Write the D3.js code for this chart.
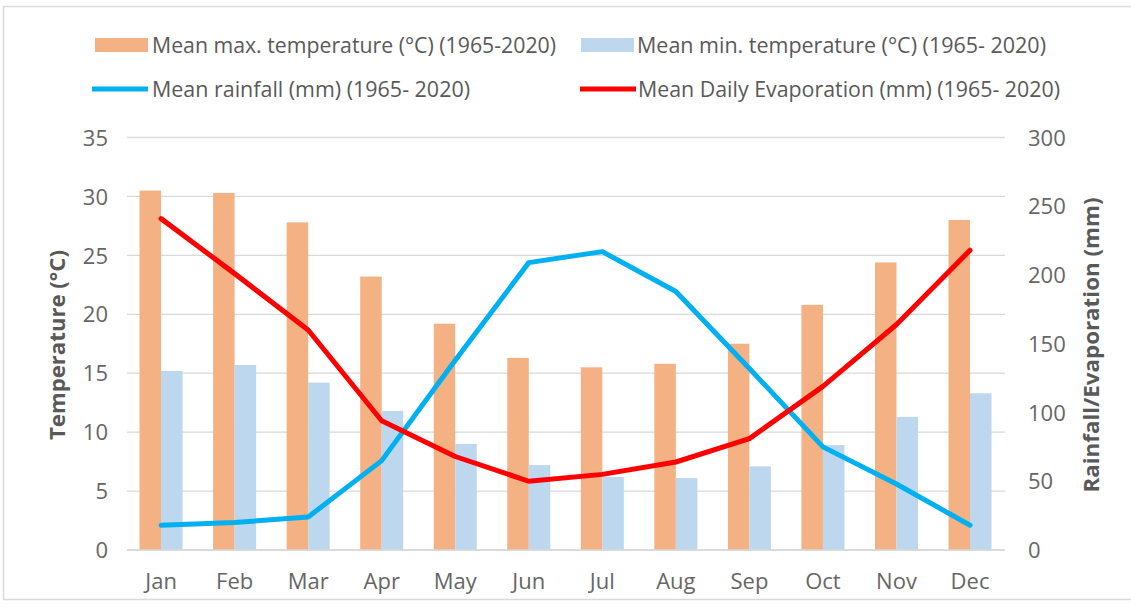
<!DOCTYPE html>
<html>
<head>
<meta charset="utf-8">
<script src="https://cdn.jsdelivr.net/npm/d3@7"></script>
<style>
  html, body { margin: 0; padding: 0; background: #fff; }
  svg { display: block; }
  text { font-family: "Open Sans", sans-serif; }
</style>
</head>
<body>
<svg id="chart" width="1131" height="610"></svg>
<script>
const months = ["Jan","Feb","Mar","Apr","May","Jun","Jul","Aug","Sep","Oct","Nov","Dec"];
const maxTemp = [30.5, 30.3, 27.8, 23.2, 19.2, 16.3, 15.5, 15.8, 17.5, 20.8, 24.4, 28.0];
const minTemp = [15.2, 15.7, 14.2, 11.8, 9.0, 7.2, 6.2, 6.1, 7.1, 8.9, 11.3, 13.3];
const rainfall = [18, 20, 24, 65, 138, 209, 217, 188, 132, 75, 48, 18];
const evaporation = [241, 201, 160, 94, 68, 50, 55, 64, 81, 119, 164, 218];
const leftTicks = [0, 5, 10, 15, 20, 25, 30, 35];
const rightTicks = [0, 50, 100, 150, 200, 250, 300];
const legendLabels = [
  "Mean max. temperature (°C) (1965-2020)",
  "Mean min. temperature (°C) (1965- 2020)",
  "Mean rainfall (mm) (1965- 2020)",
  "Mean Daily Evaporation (mm) (1965- 2020)"
];
const colors = { max: "#F4B183", min: "#BDD7EE", rain: "#00B0F0", evap: "#FF0000" };

const svg = d3.select("#chart");

// frame
svg.append("rect").attr("x", 3.5).attr("y", 6.5).attr("width", 1140).attr("height", 593)
  .attr("fill", "none").attr("stroke", "#d9d9d9").attr("stroke-width", 1.5);

const x = d3.scaleBand().domain(months).range([124.3, 1006.8]).padding(0);
const yL = d3.scaleLinear().domain([0, 35]).range([550, 137.5]);
const yR = d3.scaleLinear().domain([0, 300]).range([550, 137.5]);
const bw = 21.5;
const inner = d3.scaleBand().domain(["max", "min"]).range([-bw, bw]).padding(0);

// gridlines
svg.append("g").selectAll("line").data(leftTicks).join("line")
  .attr("x1", 127).attr("x2", 1005)
  .attr("y1", d => yL(d)).attr("y2", d => yL(d))
  .attr("stroke", "#d9d9d9").attr("stroke-width", 1.3);

// bars
const cx = m => x(m) + x.bandwidth() / 2;
const bars = svg.append("g");
bars.selectAll("rect.max").data(months).join("rect").attr("class", "max")
  .attr("x", (m) => cx(m) + inner("max"))
  .attr("width", inner.bandwidth())
  .attr("y", (m, i) => yL(maxTemp[i]))
  .attr("height", (m, i) => yL(0) - yL(maxTemp[i]))
  .attr("fill", colors.max);
bars.selectAll("rect.min").data(months).join("rect").attr("class", "min")
  .attr("x", (m) => cx(m) + inner("min"))
  .attr("width", inner.bandwidth())
  .attr("y", (m, i) => yL(minTemp[i]))
  .attr("height", (m, i) => yL(0) - yL(minTemp[i]))
  .attr("fill", colors.min);

// lines
const lineR = d3.line().x((d, i) => cx(months[i])).y(d => yR(d));
svg.append("path").datum(rainfall).attr("d", lineR)
  .attr("fill", "none").attr("stroke", colors.rain).attr("stroke-width", 5)
  .attr("stroke-linejoin", "round").attr("stroke-linecap", "round");
svg.append("path").datum(evaporation).attr("d", lineR)
  .attr("fill", "none").attr("stroke", colors.evap).attr("stroke-width", 5)
  .attr("stroke-linejoin", "round").attr("stroke-linecap", "round");

// axes
const tickStyle = sel => sel.attr("font-size", 22).attr("fill", "#666");
const axL = svg.append("g").attr("transform", "translate(108,0)")
  .call(d3.axisLeft(yL).tickValues(leftTicks).tickSize(0).tickPadding(0));
axL.select(".domain").remove();
axL.selectAll("text").call(tickStyle).attr("font-family", "Open Sans, sans-serif").attr("dy", "0.35em");

const axR = svg.append("g").attr("transform", "translate(1028,0)")
  .call(d3.axisRight(yR).tickValues(rightTicks).tickSize(0).tickPadding(0));
axR.select(".domain").remove();
axR.selectAll("text").call(tickStyle).attr("font-family", "Open Sans, sans-serif").attr("dy", "0.35em");

const axB = svg.append("g").attr("transform", "translate(0,550)")
  .call(d3.axisBottom(x).tickSize(0).tickPadding(23));
axB.select(".domain").attr("stroke", "#d9d9d9").attr("stroke-width", 1.3)
  .attr("d", "M127,0H1005");
axB.selectAll("text").call(tickStyle).attr("font-family", "Open Sans, sans-serif");

// axis titles
svg.append("text").attr("transform", "translate(57,345) rotate(-90)")
  .attr("text-anchor", "middle").attr("dominant-baseline", "central")
  .attr("font-size", 21).attr("font-weight", "bold").attr("fill", "#595959")
  .attr("textLength", 190).attr("lengthAdjust", "spacingAndGlyphs")
  .text("Temperature (°C)");
svg.append("text").attr("transform", "translate(1091,345) rotate(-90)")
  .attr("text-anchor", "middle").attr("dominant-baseline", "central")
  .attr("font-size", 21).attr("font-weight", "bold").attr("fill", "#595959")
  .attr("textLength", 295).attr("lengthAdjust", "spacingAndGlyphs")
  .text("Rainfall/Evaporation (mm)");

// legend
const legend = svg.append("g");
const legItems = [
  { type: "rect", color: colors.max, sx: 95, tx: 152, y: 45, w: 404, label: legendLabels[0] },
  { type: "rect", color: colors.min, sx: 581, tx: 637, y: 45, w: 409, label: legendLabels[1] },
  { type: "line", color: colors.rain, sx: 92, tx: 152, y: 89, w: 318, label: legendLabels[2] },
  { type: "line", color: colors.evap, sx: 580, tx: 638, y: 89, w: 422, label: legendLabels[3] }
];
legItems.forEach(it => {
  if (it.type === "rect") {
    legend.append("rect").attr("x", it.sx).attr("y", it.y - 7).attr("width", 53).attr("height", 14)
      .attr("fill", it.color);
  } else {
    legend.append("line").attr("x1", it.sx).attr("x2", it.sx + 56).attr("y1", it.y).attr("y2", it.y)
      .attr("stroke", it.color).attr("stroke-width", 5);
  }
  legend.append("text").attr("x", it.tx).attr("y", it.y).attr("dominant-baseline", "central")
    .attr("font-size", 21).attr("fill", "#595959")
    .attr("textLength", it.w).attr("lengthAdjust", "spacingAndGlyphs")
    .text(it.label);
});
</script>
</body>
</html>
